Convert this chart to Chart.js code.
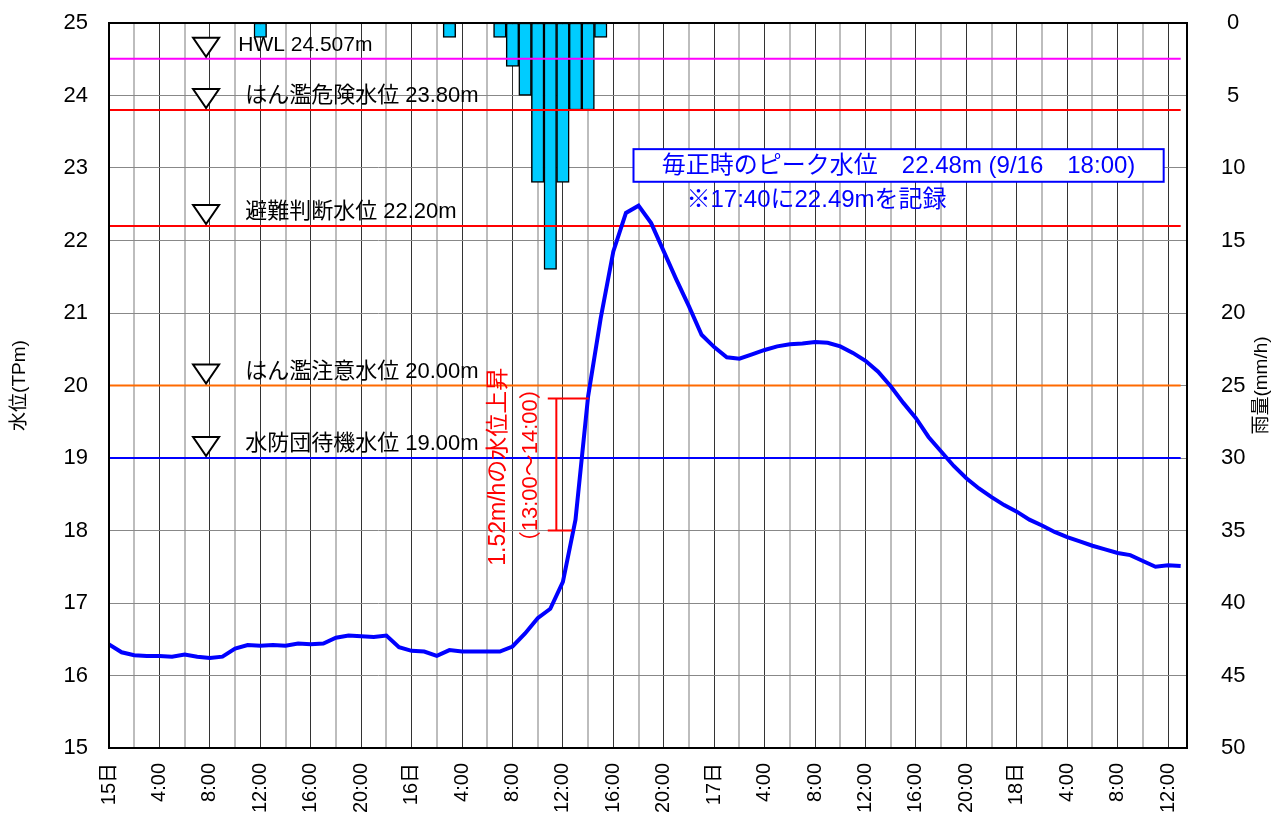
<!DOCTYPE html>
<html>
<head>
<meta charset="utf-8">
<script src="https://cdn.jsdelivr.net/npm/chart.js@4"></script>
<style>
  body { margin: 0; background: #fff; }
  canvas { display: block; }
</style>
</head>
<body>
<canvas id="levelChart" width="1275" height="817"></canvas>
<script>
// water level, hourly from 15日 0:00 (m)
var waterLevel = [
  16.43, 16.32, 16.28, 16.27, 16.27, 16.26, 16.29, 16.26, 16.24, 16.26,
  16.37, 16.42, 16.41, 16.42, 16.41, 16.44, 16.43, 16.44, 16.52, 16.55,
  16.54, 16.53, 16.55, 16.39, 16.34, 16.33, 16.27, 16.35, 16.33, 16.33,
  16.33, 16.33, 16.40, 16.58, 16.79, 16.92, 17.29, 18.15, 19.85, 20.93,
  21.85, 22.38, 22.48, 22.24, 21.85, 21.46, 21.09, 20.70, 20.53, 20.39,
  20.37, 20.43, 20.49, 20.54, 20.57, 20.58, 20.60, 20.59, 20.54, 20.45,
  20.34, 20.19, 19.99, 19.76, 19.55, 19.29, 19.09, 18.89, 18.72, 18.58,
  18.46, 18.35, 18.26, 18.15, 18.07, 17.98, 17.91, 17.85, 17.79, 17.74,
  17.69, 17.66, 17.58, 17.50, 17.52, 17.51
];

// rainfall (mm/h), only the hours with rain
var rainHours  = [12, 27, 31, 32, 33, 34, 35, 36, 37, 38, 39];
var rainValues = [1, 1, 1, 3, 5, 11, 17, 11, 6, 6, 1];

// reference water levels
var levelNames  = ['HWL 24.507m', 'はん濫危険水位 23.80m', '避難判断水位 22.20m', 'はん濫注意水位 20.00m', '水防団待機水位 19.00m'];
var levelValues = [24.507, 23.80, 22.20, 20.00, 19.00];
var levelColors = ['#ff00ff', '#ff0000', '#ff0000', '#ff6a00', '#0000ff'];

// x tick labels, every 4 hours
var xTickLabels = ['15日', '4:00', '8:00', '12:00', '16:00', '20:00',
                   '16日', '4:00', '8:00', '12:00', '16:00', '20:00',
                   '17日', '4:00', '8:00', '12:00', '16:00', '20:00',
                   '18日', '4:00', '8:00', '12:00'];
var yTicks  = [15, 16, 17, 18, 19, 20, 21, 22, 23, 24, 25];
var y2Ticks = [0, 5, 10, 15, 20, 25, 30, 35, 40, 45, 50];

var FONT = "'Liberation Sans', 'Noto Sans CJK JP', sans-serif";
Chart.defaults.font.family = FONT;
Chart.defaults.color = '#000';

var datasets = [];
datasets.push({
  label: '水位',
  data: waterLevel.map(function (v, i) { return {x: i, y: v}; }),
  borderColor: '#0000ff',
  borderWidth: 4,
  pointRadius: 0,
  tension: 0,
  yAxisID: 'y',
  order: 0
});
levelValues.forEach(function (v, i) {
  datasets.push({
    label: levelNames[i],
    data: [{x: 0, y: v}, {x: 85, y: v}],
    borderColor: levelColors[i],
    borderWidth: 2,
    pointRadius: 0,
    yAxisID: 'y',
    order: 1
  });
});
datasets.push({
  type: 'bar',
  label: '雨量',
  data: rainHours.map(function (h, i) { return {x: h, y: rainValues[i]}; }),
  backgroundColor: '#00ccff',
  borderColor: '#000',
  borderWidth: 1.5,
  borderSkipped: false,
  barPercentage: 1,
  categoryPercentage: 1,
  yAxisID: 'y2',
  order: 10
});

// keep the plot area where the reference has it
function fixBox(s, w, h) {
  if (w) s.width = w;
  if (h) s.height = h;
  s.paddingLeft = s.paddingRight = s.paddingTop = s.paddingBottom = 0;
}

// triangles, level labels, notes, axis titles, frame
var annotations = {
  id: 'annotations',
  afterDatasetsDraw: function (chart) {
    var c = chart.ctx, x = chart.scales.x, y = chart.scales.y;
    c.save();
    // level markers
    levelValues.forEach(function (v, i) {
      var ly = y.getPixelForValue(v);
      var cx = x.getPixelForValue(7.7);
      var top = ly - 21;
      c.beginPath();
      c.moveTo(cx - 13, top);
      c.lineTo(cx + 13, top);
      c.lineTo(cx, top + 19);
      c.closePath();
      c.fillStyle = '#fff';
      c.fill();
      c.lineWidth = 2;
      c.strokeStyle = '#000';
      c.stroke();
      c.fillStyle = '#000';
      c.font = (i === 0 ? '21px ' : '22px ') + FONT;
      c.textAlign = 'left';
      c.textBaseline = 'middle';
      c.fillText(levelNames[i], x.getPixelForValue(i === 0 ? 10.25 : 10.8), ly - 14);
    });

    // peak box
    var bx1 = x.getPixelForValue(41.6), bx2 = x.getPixelForValue(83.65);
    var by1 = y.getPixelForValue(23.26), by2 = y.getPixelForValue(22.81);
    c.fillStyle = '#fff';
    c.fillRect(bx1, by1, bx2 - bx1, by2 - by1);
    c.lineWidth = 2;
    c.strokeStyle = '#0000ff';
    c.strokeRect(bx1, by1, bx2 - bx1, by2 - by1);
    c.fillStyle = '#0000ff';
    c.font = '24px ' + FONT;
    c.textAlign = 'center';
    c.textBaseline = 'middle';
    c.fillText('毎正時のピーク水位　22.48m (9/16　18:00)', (bx1 + bx2) / 2, (by1 + by2) / 2 + 1);
    c.textAlign = 'left';
    c.fillText('※17:40に22.49mを記録', x.getPixelForValue(45.8), y.getPixelForValue(22.56));

    // rise note
    c.fillStyle = '#ff0000';
    c.font = '23px ' + FONT;
    c.save();
    c.translate(x.getPixelForValue(30.87), y.getPixelForValue(18.88));
    c.rotate(-Math.PI / 2);
    c.textAlign = 'center';
    c.fillText('1.52m/hの水位上昇', 0, 0);
    c.restore();
    c.font = '22px ' + FONT;
    c.save();
    c.translate(x.getPixelForValue(33.5), y.getPixelForValue(18.9));
    c.rotate(-Math.PI / 2);
    c.textAlign = 'center';
    c.fillText('（13:00～14:00）', 0, 0);
    c.restore();

    c.strokeStyle = '#ff0000';
    c.lineWidth = 2;
    var vx = x.getPixelForValue(35.48);
    var t = y.getPixelForValue(19.82), b = y.getPixelForValue(18.0);
    c.beginPath();
    c.moveTo(vx, t); c.lineTo(vx, b);
    c.moveTo(x.getPixelForValue(34.8), t); c.lineTo(x.getPixelForValue(38.04), t);
    c.moveTo(x.getPixelForValue(34.8), b); c.lineTo(x.getPixelForValue(36.72), b);
    c.stroke();
    c.restore();
  },
  afterDraw: function (chart) {
    var c = chart.ctx, a = chart.chartArea;
    c.save();
    c.lineWidth = 2;
    c.strokeStyle = '#000';
    c.strokeRect(a.left, a.top, a.right - a.left, a.bottom - a.top);
    c.fillStyle = '#000';
    c.font = '19px ' + FONT;
    c.textAlign = 'center';
    c.textBaseline = 'middle';
    var my = (a.top + a.bottom) / 2;
    c.translate(20, my);
    c.rotate(-Math.PI / 2);
    c.fillText('水位(TPm)', 0, 0);
    c.restore();
    c.save();
    c.fillStyle = '#000';
    c.font = '19px ' + FONT;
    c.textAlign = 'center';
    c.textBaseline = 'middle';
    c.translate(chart.width - 13, my);
    c.rotate(-Math.PI / 2);
    c.fillText('雨量(mm/h)', 0, 0);
    c.restore();
  }
};

var chart = new Chart(document.getElementById('levelChart').getContext('2d'), {
  type: 'line',
  data: { datasets: datasets },
  options: {
    responsive: false,
    animation: false,
    devicePixelRatio: 1,
    layout: { padding: { top: 23, left: 0, right: 0, bottom: 0 } },
    plugins: { legend: { display: false }, tooltip: { enabled: false } },
    scales: {
      x: {
        type: 'linear',
        offset: false,
        min: 0,
        max: 85.5,
        afterFit: function (s) { fixBox(s, 0, 69); },
        ticks: {
          stepSize: 2,
          includeBounds: false,
          autoSkip: false,
          minRotation: 90,
          maxRotation: 90,
          padding: 15,
          font: { size: 20 },
          callback: function (v) {
            var h = Math.round(v);
            return h % 4 === 0 ? xTickLabels[h / 4] : '';
          }
        },
        grid: {
          offset: false,
          drawTicks: false,
          color: function (ctx) {
            return ctx.tick && Math.round(ctx.tick.value) % 4 === 0 ? '#333' : '#bdbdbd';
          },
          lineWidth: function (ctx) {
            return ctx.tick && Math.round(ctx.tick.value) % 4 === 0 ? 1 : 2;
          }
        },
        border: { display: false }
      },
      y: {
        position: 'left',
        min: yTicks[0],
        max: yTicks[yTicks.length - 1],
        afterFit: function (s) { fixBox(s, 109, 0); },
        afterBuildTicks: function (s) { s.ticks = yTicks.map(function (v) { return {value: v}; }); },
        ticks: { padding: 21, font: { size: 22 } },
        grid: { drawTicks: false, color: '#888', lineWidth: 1 },
        border: { display: false }
      },
      y2: {
        position: 'right',
        reverse: true,
        min: y2Ticks[0],
        max: y2Ticks[y2Ticks.length - 1],
        afterFit: function (s) { fixBox(s, 88, 0); },
        afterBuildTicks: function (s) { s.ticks = y2Ticks.map(function (v) { return {value: v}; }); },
        ticks: { padding: 34, crossAlign: 'center', font: { size: 22 } },
        grid: { display: false, drawTicks: false },
        border: { display: false }
      }
    }
  },
  plugins: [annotations]
});
</script>
</body>
</html>
